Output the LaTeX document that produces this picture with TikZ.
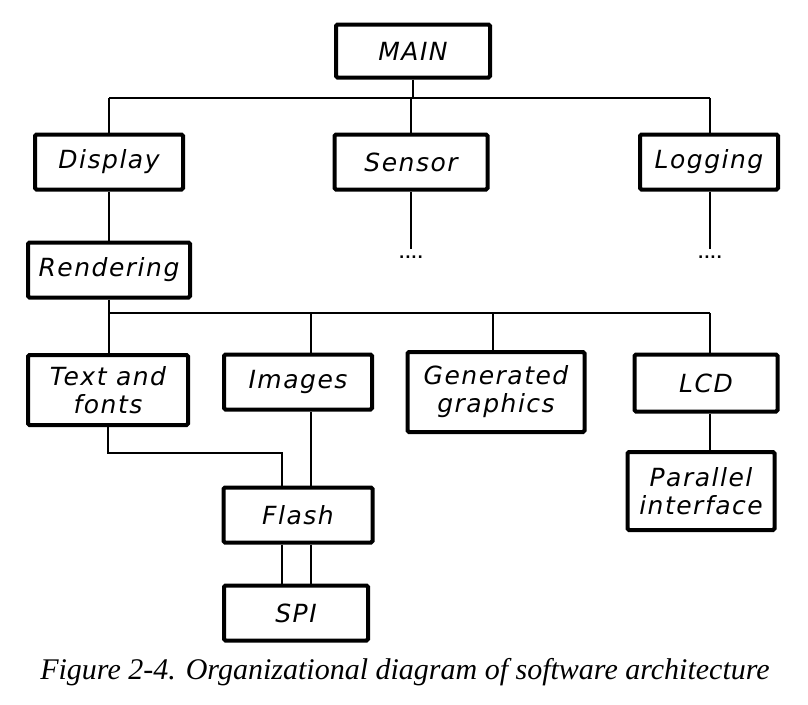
\documentclass[tikz,border=0pt]{standalone}
\usepackage{fontspec}
\setmainfont{Liberation Serif}
\newfontfamily\hand{DejaVu Sans}[LetterSpace=6]
\tikzset{
  box/.style={draw=black, line width=4pt, rounded corners=1.5pt, fill=white, inner sep=2pt,
    font=\hand\itshape\fontsize{25}{28}\selectfont, align=center},
  conn/.style={draw=black, line width=2.4pt},
  dots/.style={font=\hand\bfseries\fontsize{14}{14}\selectfont, inner sep=0pt}
}
\begin{document}
\begin{tikzpicture}[x=1pt,y=-1pt]
\useasboundingbox (0,0) rectangle (808,704);
\fill[white] (0,0) rectangle (808,704);
\coordinate (bm) at (413,98);
\coordinate (bl) at (109,98);
\coordinate (bc) at (411,98);
\coordinate (br) at (710,98);
\coordinate (sd) at (411,249);
\coordinate (ld) at (710,249);
\coordinate (rm) at (109,313);
\coordinate (r1) at (109,313);
\coordinate (r2) at (311,313);
\coordinate (r3) at (493,313);
\coordinate (r4) at (710,313);
\coordinate (tf) at (108,453);
\coordinate (tf2) at (282,453);

\node[box, minimum width=154pt, minimum height=53pt] (main) at (413,51) {MAIN};
\node[box, minimum width=148pt, minimum height=55pt] (disp) at (109,162) {Display};
\node[box, minimum width=153pt, minimum height=55pt] (sens) at (411,162) {Sensor};
\node[box, minimum width=138pt, minimum height=55pt] (logg) at (709,162) {Logging};
\node[box, minimum width=162pt, minimum height=55pt] (rend) at (109,270) {Rendering};
\node[box, minimum width=160pt, minimum height=70pt] (text) at (108,390) {Text and\\fonts};
\node[box, minimum width=148pt, minimum height=55pt] (imgs) at (298,382) {Images};
\node[box, minimum width=177pt, minimum height=80pt] (gen) at (496,392) {Generated\\graphics};
\node[box, minimum width=143pt, minimum height=57pt] (lcd) at (706,383) {LCD};
\node[box, minimum width=147pt, minimum height=78pt] (par) at (701,491) {Parallel\\interface};
\node[box, minimum width=149pt, minimum height=55pt] (flash) at (298,515) {Flash};
\node[box, minimum width=144pt, minimum height=55pt] (spi) at (296,613) {SPI};

\path[conn] (main.south) -- (bm);
\path[conn] (bl) -- (br);
\path[conn] (bl) -- (bl |- disp.north);
\path[conn] (bc) -- (bc |- sens.north);
\path[conn] (br) -- (br |- logg.north);
\path[conn] (disp.south -| bl) -- (bl |- rend.north);
\path[conn] (sens.south -| sd) -- (sd);
\path[conn] (logg.south -| ld) -- (ld);
\node[dots] (sdots) at (411,257) {....};
\node[dots] (ldots) at (710,257) {....};
\path[conn] (rend.south -| rm) -- (rm);
\path[conn] (r1) -- (r4);
\path[conn] (r1) -- (r1 |- text.north);
\path[conn] (r2) -- (r2 |- imgs.north);
\path[conn] (r3) -- (r3 |- gen.north);
\path[conn] (r4) -- (r4 |- lcd.north);
\path[conn] (lcd.south -| r4) -- (r4 |- par.north);
\path[conn] (text.south -| tf) -- (tf) -- (tf2) -- (tf2 |- flash.north);
\path[conn] (imgs.south -| r2) -- (r2 |- flash.north);
\path[conn] (flash.south -| tf2) -- (tf2 |- spi.north);
\path[conn] (flash.south -| r2) -- (r2 |- spi.north);

\node[font=\itshape\fontsize{30}{32}\selectfont, inner sep=0pt] (cap) at (405,672)
  {Figure 2-4. Organizational diagram of software architecture};
\end{tikzpicture}
\end{document}
